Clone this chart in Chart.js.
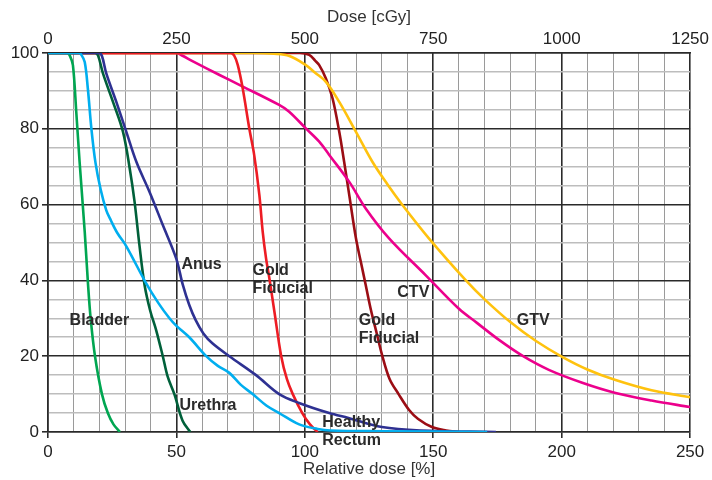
<!DOCTYPE html>
<html>
<head>
<meta charset="utf-8">
<script src="https://cdn.jsdelivr.net/npm/chart.js@4.4.1/dist/chart.umd.min.js"></script>
<style>
  html, body { margin: 0; padding: 0; background: #fff; }
  #wrap { width: 712px; height: 480px; position: relative; }
</style>
</head>
<body>
<div id="wrap"><canvas id="chart"></canvas></div>
<script>
// dose-volume curves: [relative dose %, volume %]
const bladder = [[0,100],[7.5,100],[8.5,99.3],[9.7,96.8],[11,84.5],[12.3,71.3],[14.3,52.8],[15.6,38.8],[16.6,30],[18.3,20],[21,10],[23.3,5],[25.5,2],[28,0]];
const rectum = [[0,100],[12,100],[13,99.5],[14.3,97.6],[15.5,90.7],[16.9,80],[18.5,71],[20.5,64],[22.7,58.5],[24.5,55.8],[27,52.5],[30.5,49],[38,39.5],[43,34],[47.3,30],[50,28],[55,25],[61.6,20],[66,17.5],[70.6,15.6],[75,12.5],[79.7,10],[85,7],[90,5],[97.8,2],[105,0.8],[110,0.4],[130,0.2],[171,0]];
const urethra = [[0,100],[18.3,100],[19.5,99.3],[21.4,94.6],[25.3,87.1],[29.2,79.2],[31.8,69.6],[33.7,60.8],[35.6,49.3],[37.6,38.8],[39.8,32],[42.1,26.9],[44.7,20],[46.6,14.6],[49.2,10],[52.4,3],[55.4,0]];
const anus = [[0,100],[19.8,100],[21,99.2],[22.7,94.6],[26.6,87.1],[30.5,79.2],[34.4,71.3],[39.5,63.4],[44.7,54.6],[49.9,45.8],[52.5,38.8],[55,33.5],[57.5,29.5],[60.5,26],[64,23.4],[70.6,20],[81,15],[90,10],[98,7.6],[109.5,5],[117,3.7],[130,1.3],[145,0.4],[174.4,0]];
const goldFid1 = [[0,100],[71,100],[72.5,99.3],[73.9,96.8],[75.8,90.7],[78.4,80],[80.3,73],[82.3,62.5],[83.6,52.8],[84.9,45.8],[86.2,40.5],[88.1,32],[90.8,20],[93,14],[95.3,10],[99,5],[102,2],[105,0]];
const goldFid2 = [[0,100],[98,100],[101.7,99.5],[104,98],[105.6,96.8],[108.2,93.3],[110.8,88],[113.4,79.2],[115.3,71.3],[117.3,62.5],[119.9,51.1],[121.8,44.9],[123.7,38.8],[125.8,32],[128,26],[130,20.5],[133,14],[136.5,10],[140.6,5.8],[144,3.5],[149.5,1.3],[155,0.4],[160,0]];
const ctv = [[0,100],[50,100],[52,99.4],[57,97.6],[66.8,94.2],[74.5,91.6],[90,86.3],[93.9,84.5],[100.4,80.1],[105.6,76.6],[109.5,73.1],[117.3,66],[123.7,59],[132.8,51.1],[147,41.4],[160,32.5],[167,28.8],[175.6,24.3],[185,20],[195,16.4],[208,13],[221,10.3],[235,8.3],[250,6.6]];
const gtv = [[0,100],[80,100],[88,99.8],[94,99.2],[100.4,96.8],[104,94.8],[108.2,92.4],[113.4,87.1],[119.9,79.2],[126.3,71.3],[132,65.5],[138,59.9],[148.3,51.1],[162.7,40],[170,35],[180,29],[190,24],[200,19.9],[210,16.5],[221,13.7],[235,11],[250,9.2]];

// curve labels: [text lines, x, y] in data units (left edge, first line centre)
const labels = [
  [["Bladder"], 8.4, 29.5],
  [["Anus"], 52, 44.3],
  [["Gold", "Fiducial"], 79.6, 42.7],
  [["CTV"], 136, 36.7],
  [["Gold", "Fiducial"], 121, 29.5],
  [["GTV"], 182.5, 29.5],
  [["Urethra"], 51.2, 6.9],
  [["Healthy", "Rectum"], 106.8, 2.4],
];

const FONT = "'Liberation Sans', Arial, sans-serif";

const toPts = (arr) => arr.map(([x, y]) => ({ x, y }));
const series = (data, color) => ({
  data: toPts(data), borderColor: color, borderWidth: 2.6,
  pointRadius: 0, fill: false, tension: 0.35,
});

const labelPlugin = {
  id: "curveLabels",
  afterDatasetsDraw(chart) {
    const { ctx, scales: { x, y } } = chart;
    ctx.save();
    ctx.font = "bold 16px " + FONT;
    ctx.fillStyle = "#2b2b2b";
    ctx.textBaseline = "middle";
    ctx.textAlign = "left";
    for (const [lines, lx, ly] of labels) {
      const px = x.getPixelForValue(lx);
      const py = y.getPixelForValue(ly);
      lines.forEach((t, i) => ctx.fillText(t, px, py + i * 18));
    }
    ctx.restore();
  },
};

const major = (v, step) => Math.abs(v % step) < 1e-6;

new Chart(document.getElementById("chart"), {
  type: "line",
  data: {
    datasets: [
      series(rectum, "#00aeef"),
      series(anus, "#2e3192"),
      series(bladder, "#00a651"),
      series(urethra, "#00603a"),
      series(goldFid1, "#ed1c24"),
      series(gtv, "#ffc20e"),
      series(ctv, "#ec008c"),
      series(goldFid2, "#9b0d14"),
    ],
  },
  options: {
    responsive: true,
    maintainAspectRatio: false,
    animation: false,
    layout: { padding: { left: 0, right: 20, top: 0, bottom: 0 } },
    plugins: { legend: { display: false }, tooltip: { enabled: false } },
    scales: {
      x: {
        type: "linear", position: "bottom", min: 0, max: 250,
        ticks: {
          stepSize: 10, autoSkip: false, maxRotation: 0, padding: 4,
          color: "#222", font: { size: 17, family: FONT },
          callback: (v) => (major(v, 50) ? String(v) : ""),
        },
        grid: {
          color: (c) => (major(c.tick.value, 50) ? "#2a2a2a" : "#9a9a9a"),
          lineWidth: (c) => (major(c.tick.value, 50) ? 1.6 : 1),
          tickColor: (c) => (major(c.tick.value, 50) ? "#2a2a2a" : "rgba(0,0,0,0)"),
          tickLength: 6,
        },
        border: { color: "#2a2a2a", width: 1.6 },
        title: {
          display: true, text: "Relative dose [%]", color: "#333", padding: { top: 0, bottom: 0 },
          font: { size: 17, family: FONT },
        },
        afterFit: (s) => { s.height = 48; },
      },
      x2: {
        type: "linear", position: "top", min: 0, max: 1250,
        ticks: {
          stepSize: 250, maxRotation: 0, padding: 3,
          color: "#222", font: { size: 17, family: FONT },
          callback: (v) => String(v),
        },
        grid: { drawOnChartArea: false, drawTicks: false },
        border: { color: "#2a2a2a", width: 1.6 },
        title: {
          display: true, text: "Dose [cGy]", color: "#333", padding: { top: 7, bottom: 0 },
          font: { size: 17, family: FONT },
        },
        afterFit: (s) => { s.height = 53; },
      },
      y: {
        type: "linear", min: 0, max: 100,
        ticks: {
          stepSize: 5, autoSkip: false, padding: 3,
          color: "#222", font: { size: 17, family: FONT },
          callback: (v) => (major(v, 20) ? String(v) : ""),
        },
        grid: {
          color: (c) => (major(c.tick.value, 20) ? "#2a2a2a" : "#bdbdbd"),
          lineWidth: 1.6,
          tickColor: (c) => (major(c.tick.value, 20) ? "#2a2a2a" : "rgba(0,0,0,0)"),
          tickLength: 6,
        },
        border: { color: "#2a2a2a", width: 1.6 },
        afterFit: (s) => { s.width = 48; },
      },
    },
  },
  plugins: [labelPlugin],
});
</script>
</body>
</html>
